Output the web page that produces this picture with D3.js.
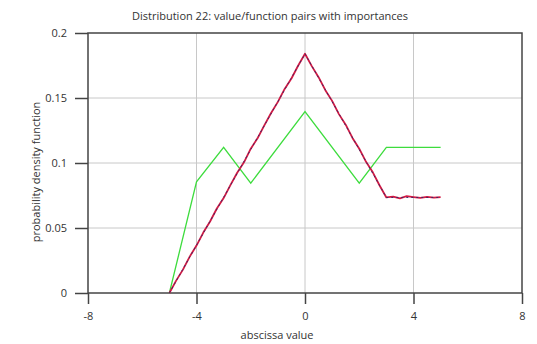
<!DOCTYPE html>
<html>
<head>
<meta charset="utf-8">
<script src="https://cdn.jsdelivr.net/npm/d3@7"></script>
<style>
  html, body { margin: 0; padding: 0; background: #fff; }
  svg { display: block; }
  text { font-family: "Open Sans", "Liberation Sans", Arial, sans-serif; fill: #333; }
</style>
</head>
<body>
<svg id="chart" width="537" height="344"></svg>
<script>
// Tick values and labels
const xTicks = [-8, -4, 0, 4, 8];
const xTickLabels = ["-8", "-4", "0", "4", "8"];
const yTicks = [0, 0.05, 0.1, 0.15, 0.2];
const yTickLabels = ["0", "0.05", "0.1", "0.15", "0.2"];

// Sampled density (noisy estimate)
const sampleX = [-5, -4.75, -4.5, -4.25, -4, -3.75, -3.5, -3.25, -3, -2.75, -2.5, -2.25, -2, -1.75, -1.5, -1.25, -1, -0.75, -0.5, -0.25,
                 0, 0.25, 0.5, 0.75, 1, 1.25, 1.5, 1.75, 2, 2.25, 2.5, 2.75, 3, 3.25, 3.5, 3.75, 4, 4.25, 4.5, 4.75, 5];
const sampleY = [0, 0.0095, 0.018, 0.028, 0.0365, 0.0465, 0.055, 0.065, 0.073, 0.083, 0.0925, 0.1005, 0.111, 0.119, 0.129, 0.1385, 0.147, 0.157, 0.165, 0.175,
                 0.184, 0.1745, 0.166, 0.156, 0.1478, 0.1376, 0.1295, 0.1193, 0.111, 0.1009, 0.0928, 0.0827, 0.0735, 0.0742, 0.0728, 0.0745, 0.0738, 0.0732, 0.074, 0.0733, 0.0737];

// Exact density function
const pdfX = [-5, 0, 3, 5];
const pdfY = [0, 0.184, 0.0735, 0.0735];

// Value/function pairs with importances
const pairX = [-5, -4, -3, -2, 0, 2, 3, 5];
const pairY = [0, 0.0855, 0.112, 0.0845, 0.1395, 0.0845, 0.112, 0.112];

const svg = d3.select("#chart");
const plotLeft = 88, plotRight = 522, plotTop = 33, plotBottom = 293;
const fontFamily = "'Open Sans', 'Liberation Sans', Arial, sans-serif";

const x = d3.scaleLinear().domain([-8, 8]).range([plotLeft, plotRight]);
const y = d3.scaleLinear().domain([0, 0.2]).range([plotBottom, plotTop]);

// Grid lines
const grid = svg.append("g");
grid.selectAll("line.gx").data(xTicks.slice(1, -1)).enter().append("line")
  .attr("x1", d => x(d)).attr("x2", d => x(d))
  .attr("y1", plotTop).attr("y2", plotBottom)
  .attr("stroke", "#c8c8c8").attr("stroke-width", 1);
grid.selectAll("line.gy").data(yTicks.slice(1, -1)).enter().append("line")
  .attr("x1", plotLeft).attr("x2", plotRight)
  .attr("y1", d => y(d)).attr("y2", d => y(d))
  .attr("stroke", "#c8c8c8").attr("stroke-width", 1);

// Frame
svg.append("rect")
  .attr("x", plotLeft).attr("y", plotTop)
  .attr("width", plotRight - plotLeft).attr("height", plotBottom - plotTop)
  .attr("fill", "none").attr("stroke", "#444").attr("stroke-width", 1.5);

// Axes
const xAxis = d3.axisBottom(x).tickValues(xTicks).tickSize(11).tickPadding(8)
  .tickFormat((d, i) => xTickLabels[i]);
svg.append("g").attr("transform", `translate(0,${plotBottom})`).call(xAxis)
  .call(g => g.select(".domain").remove())
  .call(g => g.selectAll("line").attr("stroke", "#444").attr("stroke-width", 1.5))
  .call(g => g.selectAll("text").attr("font-size", 11).attr("fill", "#333")
    .style("font-family", fontFamily));

const yAxis = d3.axisLeft(y).tickValues(yTicks).tickSize(13).tickPadding(8)
  .tickFormat((d, i) => yTickLabels[i]);
svg.append("g").attr("transform", `translate(${plotLeft},0)`).call(yAxis)
  .call(g => g.select(".domain").remove())
  .call(g => g.selectAll("line").attr("stroke", "#444").attr("stroke-width", 1.5))
  .call(g => g.selectAll("text").attr("font-size", 11).attr("fill", "#333")
    .style("font-family", fontFamily));

const line = d3.line().x(d => x(d[0])).y(d => y(d[1]));

// Pairs (green)
svg.append("path")
  .datum(pairX.map((v, i) => [v, pairY[i]]))
  .attr("d", line)
  .attr("fill", "none").attr("stroke", "#3ddc3d").attr("stroke-width", 1.3);

// Sampled density (red)
svg.append("path")
  .datum(sampleX.map((v, i) => [v, sampleY[i]]))
  .attr("d", line)
  .attr("fill", "none").attr("stroke", "#d41a44").attr("stroke-width", 1.8)
  .attr("stroke-linejoin", "round");

// Exact density (dark, dashed)
svg.append("path")
  .datum(pdfX.map((v, i) => [v, pdfY[i]]))
  .attr("d", line)
  .attr("fill", "none").attr("stroke", "#3a2a66").attr("stroke-width", 1)
  .attr("stroke-dasharray", "2,3");

// Titles
svg.append("text")
  .attr("x", 270).attr("y", 20)
  .attr("text-anchor", "middle").attr("font-size", 11)
  .text("Distribution 22: value/function pairs with importances");

svg.append("text")
  .attr("x", 277).attr("y", 339)
  .attr("text-anchor", "middle").attr("font-size", 11)
  .text("abscissa value");

svg.append("text")
  .attr("transform", "translate(40,172) rotate(-90)")
  .attr("text-anchor", "middle").attr("font-size", 11)
  .text("probability density function");
</script>
</body>
</html>
